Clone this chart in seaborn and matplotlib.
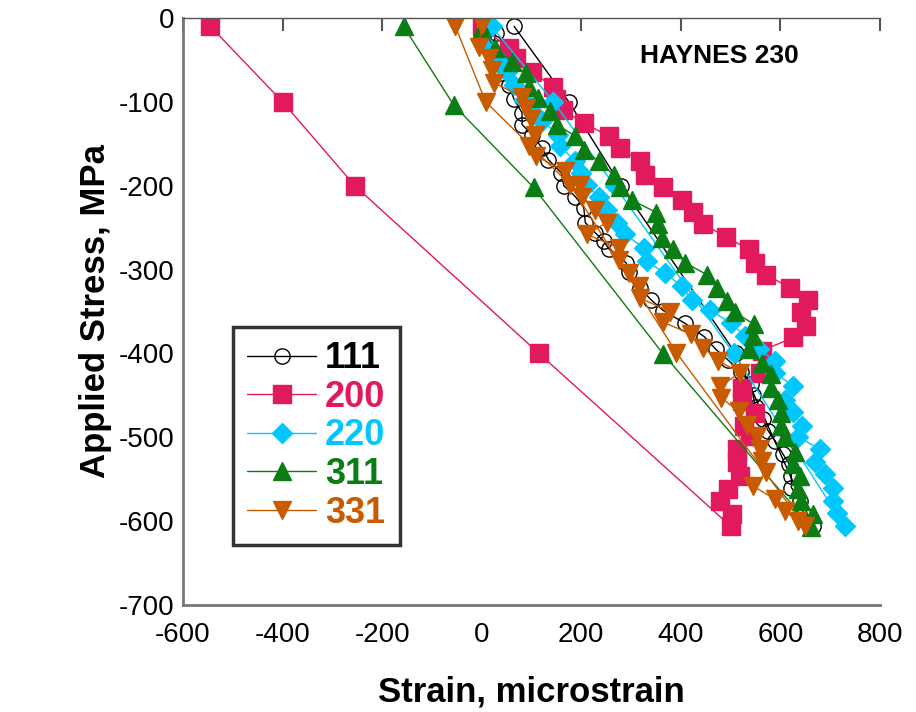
import matplotlib
matplotlib.use("Agg")
import matplotlib.pyplot as plt
import seaborn as sns
import pandas as pd

# ---- data (strain in microstrain, applied stress in MPa) ----
labels = ["111", "200", "220", "311", "331"]
colors = ["#000000", "#E01A5C", "#00C8FF", "#0A7D14", "#C85A00"]
markers = ["o", "s", "D", "^", "v"]

strain_111 = [65, 175, 280, 510, 665,
              646, 640, 622, 622, 618, 605, 590, 575, 565, 550, 545, 540, 520, 495, 470,
              447, 408, 365, 340, 318, 295, 290, 255, 245, 228, 208, 205, 188, 165, 160,
              134, 121, 101, 81, 81, 65, 54, 40, 34, 24, 28]
stress_111 = [-10, -100, -200, -400, -606,
              -590, -576, -560, -546, -532, -520, -505, -492, -478, -464, -450, -436, -422, -408, -395,
              -380, -364, -349, -336, -322, -303, -292, -275, -266, -256, -244, -226, -213, -200, -185,
              -169, -155, -139, -127, -113, -97, -80, -66, -54, -30, -18]

strain_200 = [-545, -400, -255, 115, 500,
              502, 479, 495, 519, 512, 512, 539, 526, 549, 522, 522, 559, 562, 626, 652,
              642, 656, 619, 572, 549, 536, 491, 445, 425, 402, 365, 328, 318, 278, 255,
              205, 163, 150, 144, 100, 68, 54, 0]
stress_200 = [-10, -100, -200, -400, -606,
              -592, -576, -562, -546, -530, -514, -498, -486, -471, -457, -441, -423, -397, -381, -367,
              -350, -336, -322, -306, -292, -276, -261, -246, -231, -217, -201, -187, -171, -155, -141,
              -125, -110, -96, -82, -64, -48, -36, -10]

strain_220 = [20, 144, 267, 506, 729,
              713, 706, 706, 689, 669, 679, 636, 643, 626, 609, 626, 589, 589, 556, 529,
              500, 459, 422, 402, 368, 331, 325, 288, 271, 251, 235, 211, 200, 188, 158,
              154, 121, 108, 85, 64, 50, 34, 14, 10]
stress_220 = [-10, -100, -200, -400, -606,
              -590, -576, -560, -544, -530, -514, -500, -486, -470, -455, -439, -423, -409, -395, -379,
              -364, -348, -336, -320, -304, -290, -274, -258, -244, -229, -214, -199, -185, -171, -153,
              -139, -123, -115, -98, -80, -64, -50, -36, -10]

strain_311 = [-157, -56, 104, 365, 662,
              666, 642, 636, 639, 626, 629, 609, 602, 602, 596, 582, 582, 562, 536, 545,
              546, 509, 492, 472, 452, 409, 385, 362, 355, 351, 301, 278, 265, 235, 205,
              188, 151, 138, 114, 94, 88, 60, 27, 0]
stress_311 = [-10, -104, -202, -401, -607,
              -592, -576, -562, -546, -532, -518, -500, -486, -471, -455, -441, -425, -411, -395, -379,
              -365, -351, -338, -322, -306, -292, -276, -262, -246, -232, -217, -201, -187, -171, -157,
              -141, -127, -111, -95, -82, -66, -52, -36, -12]

strain_331 = [-53, 8, 178, 391, 649,
              636, 609, 589, 545, 572, 562, 559, 552, 532, 516, 481, 479, 519, 475, 445,
              421, 365, 378, 318, 315, 295, 275, 275, 211, 251, 228, 201, 198, 168, 110,
              94, 108, 98, 88, 81, 24, 20, 14, -6, 0]
stress_331 = [-10, -100, -199, -399, -606,
              -600, -588, -574, -558, -542, -528, -514, -498, -485, -469, -453, -439, -423, -409, -393,
              -377, -363, -350, -334, -320, -304, -288, -274, -258, -244, -229, -213, -199, -183, -165,
              -153, -139, -121, -107, -94, -77, -62, -48, -34, -8]

strains = [strain_111, strain_200, strain_220, strain_311, strain_331]
stresses = [stress_111, stress_200, stress_220, stress_311, stress_331]

x_ticks = [-600, -400, -200, 0, 200, 400, 600, 800]
y_ticks = [-700, -600, -500, -400, -300, -200, -100, 0]

# ---- style ----
sns.set_style("white")
plt.rcParams["font.family"] = ["Liberation Sans", "DejaVu Sans"]
plt.rcParams["text.color"] = "black"
plt.rcParams["axes.labelcolor"] = "black"

fig = plt.figure(figsize=(9.16, 7.12), dpi=100)
ax = fig.add_axes([0.1998, 0.1503, 0.7609, 0.8244])

msizes = {"o": 11, "s": 12.5, "D": 10, "^": 12.5, "v": 12.5}
for lab, col, mk, xs, ys in zip(labels, colors, markers, strains, stresses):
    df = pd.DataFrame({"strain": xs, "stress": ys})
    face = "none" if mk == "o" else col
    sns.lineplot(data=df, x="strain", y="stress", sort=False, estimator=None,
                 color=col, linewidth=1.0, marker=mk, markersize=msizes[mk],
                 markerfacecolor=face, markeredgecolor=col, markeredgewidth=1.0,
                 label=lab, ax=ax, legend=False)

ax.set_xlim(-600, 800)
ax.set_ylim(-700, 0)
ax.set_xticks(x_ticks)
ax.set_yticks(y_ticks)
ax.set_xticklabels([str(t) for t in x_ticks])
ax.set_yticklabels([str(t) for t in y_ticks])

ax.set_xlabel("Strain, microstrain", fontsize=25, fontweight="bold", labelpad=20, color="black")
ax.set_ylabel("Applied Stress, MPa", fontsize=25, fontweight="bold", labelpad=5, color="black")

for s in ["left", "bottom"]:
    ax.spines[s].set_color("#777777")
    ax.spines[s].set_linewidth(2.0)
ax.spines["top"].set_color("#555555")
ax.spines["top"].set_linewidth(1.0)
ax.spines["right"].set_visible(False)

ax.tick_params(axis="both", direction="in", length=9.5, width=1.5, color="#555555",
               labelsize=20, labelcolor="black")
ax.tick_params(axis="x", top=True, labeltop=False, pad=12)
ax.tick_params(axis="y", right=False, pad=6)

ax.text(0.655, 0.935, "HAYNES 230", transform=ax.transAxes, fontsize=19,
        fontweight="bold", ha="left", va="center", color="black")

handles, _ = ax.get_legend_handles_labels()
leg = ax.legend(handles=handles, labels=labels, loc="lower left",
                bbox_to_anchor=(0.0717, 0.102), borderaxespad=0,
                prop={"size": 26, "weight": "bold"}, labelcolor=colors,
                frameon=True, fancybox=False, edgecolor="black",
                handlelength=1.9, handletextpad=0.25, labelspacing=0.1,
                borderpad=0.4, markerscale=1.0)
leg.get_frame().set_linewidth(2.5)

fig.savefig("out.png", dpi=100)
